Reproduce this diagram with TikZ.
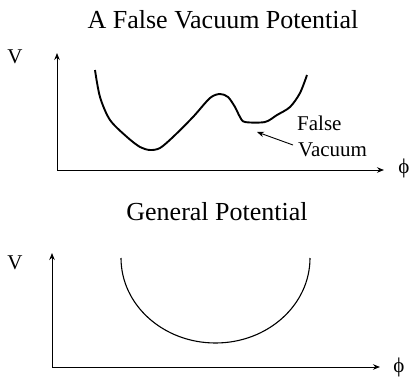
\documentclass[tikz,border=0pt]{standalone}
\usepackage{fontspec}
\setmainfont{Liberation Serif}
\usetikzlibrary{arrows.meta}

\begin{document}
\begin{tikzpicture}[x=1pt,y=-1pt,
    axis/.style={line width=0.9pt,-{Stealth[length=7pt,width=5.5pt]}},
    title/.style={font=\fontsize{26}{30}\selectfont},
    lab/.style={font=\fontsize{21}{25}\selectfont,inner sep=0pt}]
\useasboundingbox (0,0) rectangle (410,378);
% top: false vacuum
\node (title1) at (223,20) [title] {A False Vacuum Potential};
\coordinate (o1) at (57,170);
\coordinate (vtip1) at (57,53);
\coordinate (ptip1) at (384,170);
\draw[axis] (o1) -- (vtip1);
\draw[axis] (o1) -- (ptip1);
\node (v1) at (15,57) [lab] {V};
\node (phi1) at (404,168) [lab] {ϕ};
\draw[line width=1.9pt,line join=round] plot[smooth,tension=0.5] coordinates {
  (95,70) (100,97) (110,120) (127,137) (140,147) (150,150) (160,148) (173,137)
  (193,117) (210,98) (220,94) (228,97) (235,107) (240,117) (245,122) (265,122)
  (277,115) (290,107) (300,93) (307,75)};
\node (false) at (297,123) [lab,anchor=west] {False};
\node (vac) at (298,150) [lab,anchor=west] {Vacuum};
\coordinate (fvtail) at (293,145);
\coordinate (fv) at (257,132);
\draw[line width=0.9pt,-{Stealth[length=7pt,width=5.5pt]}] (fvtail) -- (fv);
% bottom: general
\node (title2) at (217,212) [title] {General Potential};
\coordinate (o2) at (52,367);
\coordinate (vtip2) at (52,253);
\coordinate (ptip2) at (380,367);
\draw[axis] (o2) -- (vtip2);
\draw[axis] (o2) -- (ptip2);
\node (v2) at (15,263) [lab] {V};
\node (phi2) at (399,367) [lab] {ϕ};
\draw[line width=1.1pt] (121,258) arc[start angle=180,end angle=0,x radius=94.5,y radius=85];
\end{tikzpicture}
\end{document}
